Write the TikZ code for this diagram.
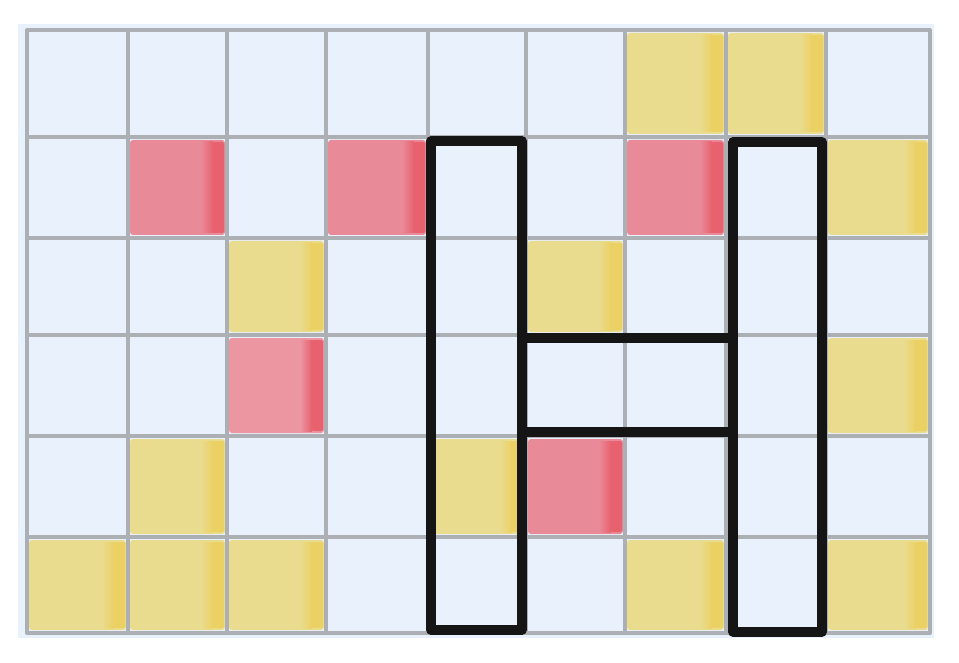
\documentclass[tikz,border=0pt]{standalone}
\usetikzlibrary{calc}
\definecolor{bgblue}{HTML}{E8F1FC}
\definecolor{gridgray}{HTML}{ACB0B5}
\definecolor{yel}{HTML}{EADC8E}
\definecolor{yeldark}{HTML}{EBD064}
\definecolor{rd}{HTML}{E98A98}
\definecolor{rddark}{HTML}{E8616F}
\definecolor{pk}{HTML}{EC96A2}
\definecolor{ink}{HTML}{151515}
\tikzset{
  gridline/.style={draw=gridgray, line width=3.5pt, line cap=round},
  outline/.style={draw=ink, line width=9.5pt, line join=round, line cap=round},
}
\newcommand{\cellfill}[4]{%
  \pgfmathsetmacro{\xa}{{27,128,227,326,428,526,625,726,826,930}[#1]}%
  \pgfmathsetmacro{\xb}{{27,128,227,326,428,526,625,726,826,930}[#1+1]}%
  \pgfmathsetmacro{\ya}{{30,137,238,335,436,537,633}[#2]}%
  \pgfmathsetmacro{\yb}{{30,137,238,335,436,537,633}[#2+1]}%
  \fill[#3, rounded corners=3pt] (\xa+2,\ya+3) rectangle (\xb-2,\yb-3);
  \shade[left color=#3, right color=#4] (\xb-26,\ya+5) rectangle (\xb-14,\yb-5);
  \fill[#4, rounded corners=2pt] (\xb-14.5,\ya+5) rectangle (\xb-3,\yb-5);
}
\begin{document}
\begin{tikzpicture}[x=1pt,y=-1pt]
\useasboundingbox (0,0) rectangle (959,663);
\fill[white] (0,0) rectangle (959,663);
\fill[bgblue] (18,24) rectangle (934,638);
% yellow cells
\foreach \c/\r in {6/0,7/0,8/1,2/2,5/2,8/3,1/4,4/4,0/5,1/5,2/5,6/5,8/5}{
  \cellfill{\c}{\r}{yel}{yeldark}
}
% red cells
\foreach \c/\r in {1/1,3/1,6/1,5/4}{
  \cellfill{\c}{\r}{rd}{rddark}
}
\cellfill{2}{3}{pk}{rddark}
% grid
\foreach \x in {27,128,227,326,428,526,625,726,826,930}{
  \draw[gridline] (\x,30) -- (\x,633);
}
\foreach \y in {30,137,238,335,436,537,633}{
  \draw[gridline] (27,\y) -- (930,\y);
}
% black outlines
\draw[outline] (431,141) rectangle (522,630);
\draw[outline] (733,142) rectangle (822,632);
\draw[outline] (522,338) -- (733,338);
\draw[outline] (522,432) -- (733,432);
\end{tikzpicture}
\end{document}
